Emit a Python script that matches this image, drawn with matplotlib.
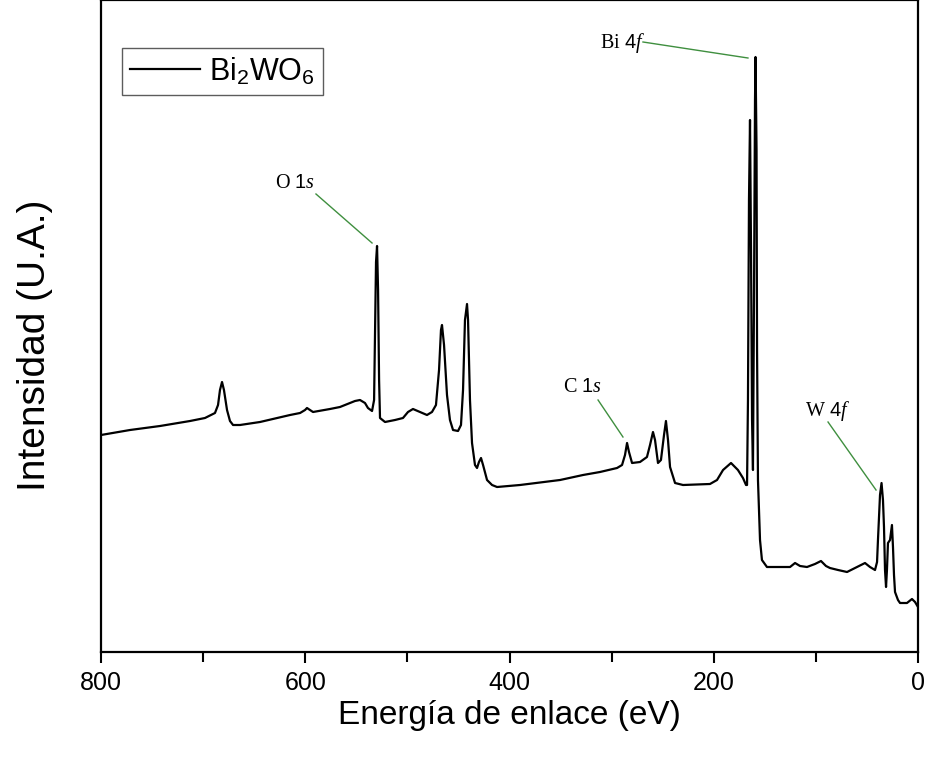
import matplotlib
matplotlib.use("Agg")
import matplotlib.pyplot as plt

plt.rcParams['font.family'] = ['Liberation Sans', 'DejaVu Sans']
plt.rcParams['mathtext.fontset'] = 'custom'
plt.rcParams['mathtext.rm'] = 'Liberation Sans'
plt.rcParams['mathtext.it'] = 'Liberation Serif:italic'
plt.rcParams['mathtext.bf'] = 'Liberation Sans:bold'

# Binding energy (eV) and intensity (a.u.)
energy = [800.0, 771.6, 742.2, 712.8, 698.2, 688.4, 685.4, 683.5, 681.5, 679.6,
          676.6, 673.7, 670.7, 663.9, 644.3, 614.9, 605.1, 600.2, 598.3, 595.3,
          592.4, 575.8, 566.0, 551.3, 546.4, 541.5, 538.6, 534.6, 532.6, 531.6,
          530.7, 529.7, 528.7, 527.7, 526.8, 521.9, 512.1, 504.3, 499.4, 494.5,
          487.6, 480.8, 475.9, 472.0, 469.0, 467.1, 466.1, 464.1, 461.2, 458.3,
          455.3, 450.4, 447.5, 445.5, 443.6, 441.6, 440.6, 438.7, 436.7, 433.8,
          431.8, 429.9, 427.9, 425.9, 422.0, 417.1, 412.2, 389.7, 350.5, 328.0,
          311.4, 294.7, 289.8, 286.9, 284.9, 283.0, 280.0, 272.2, 265.4, 262.4,
          259.5, 257.5, 254.6, 251.7, 248.7, 246.8, 244.8, 242.8, 237.9, 230.1,
          203.7, 196.8, 190.9, 183.1, 176.3, 171.4, 168.4, 167.4, 166.5, 165.5,
          164.5, 163.5, 162.5, 161.6, 160.6, 159.6, 159.1, 158.1, 157.6, 156.7,
          154.7, 152.8, 147.9, 125.3, 120.4, 115.5, 108.7, 100.9, 95.0, 90.1,
          86.2, 78.3, 69.5, 61.7, 51.9, 47.0, 42.1, 40.1, 39.2, 37.2,
          35.7, 34.3, 33.3, 32.3, 31.3, 30.4, 29.4, 27.4, 25.5, 24.5,
          23.5, 22.5, 19.6, 17.6, 10.8, 5.9, 2.9, 0.0]
intensity = [217, 222, 226, 231, 234, 239, 247, 262, 270, 262,
             242, 231, 227, 227, 230, 237, 239, 242, 244, 242,
             240, 243, 245, 251, 252, 249, 244, 241, 252, 322,
             390, 406, 362, 272, 234, 230, 232, 234, 240, 243,
             240, 237, 240, 247, 282, 322, 327, 307, 257, 232,
             222, 221, 227, 262, 332, 348, 332, 252, 209, 187,
             184, 190, 194, 187, 172, 167, 165, 167, 172, 177,
             180, 184, 187, 197, 209, 200, 189, 190, 195, 207,
             220, 212, 189, 192, 217, 231, 212, 185, 169, 167,
             168, 172, 182, 189, 182, 174, 167, 167, 252, 452,
             532, 402, 232, 182, 352, 552, 595, 502, 302, 172,
             112, 92, 85, 85, 89, 86, 85, 88, 91, 86,
             84, 82, 80, 84, 89, 85, 82, 90, 112, 157,
             169, 152, 125, 82, 65, 82, 109, 112, 127, 105,
             77, 60, 52, 49, 49, 53, 50, 45]

series_label = r'Bi$_2$WO$_6$'
peak_labels = [('O ', '1s'), ('Bi ', '4f'), ('C ', '1s'), ('W ', '4f')]

fig = plt.figure(figsize=(9.28, 7.59), dpi=100)
ax = fig.add_axes([101 / 928, 1 - 652 / 759, 817 / 928, 652 / 759])

ax.plot(energy, intensity, color='black', lw=1.6, label=series_label)
ax.set_xlim(800, 0)
ax.set_ylim(0, 652)

ax.set_xticks([800, 600, 400, 200, 0])
ax.set_xticks([700, 500, 300, 100], minor=True)
ax.set_yticks([])
ax.tick_params(axis='x', which='major', direction='out', length=8, width=1.5,
               labelsize=18, pad=6)
ax.tick_params(axis='x', which='minor', direction='out', length=7, width=1.5)
for s in ax.spines.values():
    s.set_linewidth(1.6)

ax.set_xlabel('Energía de enlace (eV)', fontsize=24, labelpad=3)
ax.set_ylabel('Intensidad (U.A.)', fontsize=28)
ax.yaxis.set_label_coords(-0.059, 0.471)

leg = ax.legend(loc='upper left', bbox_to_anchor=(122 / 928, 1 - 48 / 759),
                bbox_transform=fig.transFigure, borderaxespad=0, fontsize=22,
                frameon=True, fancybox=False, handlelength=2.3,
                handletextpad=0.3, borderpad=0.25)
leg.get_frame().set_edgecolor('#333333')
leg.get_frame().set_linewidth(1.0)

green = '#3f8f3f'
# annotation lines (data coordinates)
ann_lines = [((589.5, 458), (534.6, 409)),
             ((269.3, 610), (166.5, 594)),
             ((313.3, 252), (288.9, 215)),
             ((88.1, 230), (41.1, 162))]
ann_text = [(610.0, 469), (288.9, 609), (329.0, 264), (88.1, 241)]
for (p1, p2) in ann_lines:
    ax.plot([p1[0], p2[0]], [p1[1], p2[1]], color=green, lw=1.0)
for (pre, it), (tx, ty) in zip(peak_labels, ann_text):
    ax.text(tx, ty, pre + r'$\mathit{' + it + '}$', family='Liberation Serif',
            fontsize=14.5, ha='center', va='center')

fig.savefig('out.png', dpi=100)
